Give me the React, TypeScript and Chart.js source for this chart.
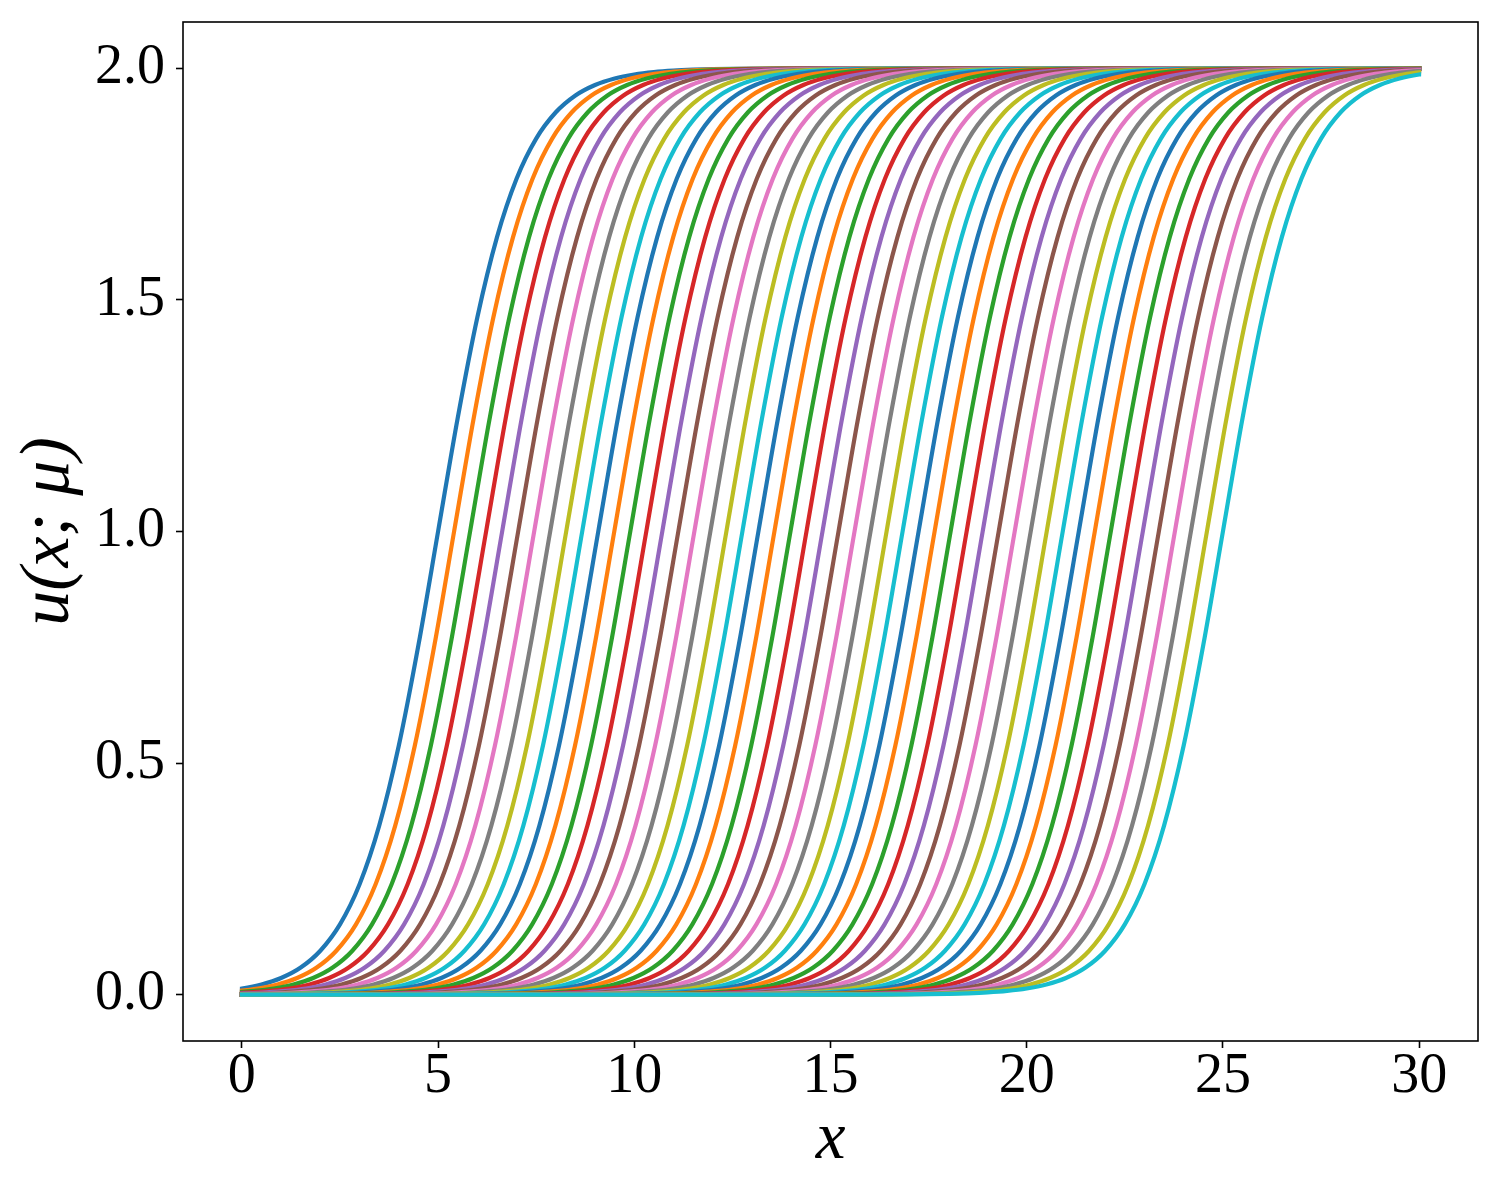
import React, { useEffect, useRef } from "react";
import { Chart, registerables } from "chart.js";

Chart.register(...registerables);

// Tick values and labels
const X_TICKS = [0, 5, 10, 15, 20, 25, 30];
const X_TICK_LABELS = ["0", "5", "10", "15", "20", "25", "30"];
const Y_TICKS = [0, 0.5, 1, 1.5, 2];
const Y_TICK_LABELS = ["0.0", "0.5", "1.0", "1.5", "2.0"];

// Front position (where u = 1) of each of the 50 curves
const CENTERS = [
  5.0, 5.408, 5.816, 6.224, 6.633, 7.041, 7.449, 7.857, 8.265, 8.673,
  9.082, 9.49, 9.898, 10.306, 10.714, 11.122, 11.531, 11.939, 12.347, 12.755,
  13.163, 13.571, 13.98, 14.388, 14.796, 15.204, 15.612, 16.02, 16.429, 16.837,
  17.245, 17.653, 18.061, 18.469, 18.878, 19.286, 19.694, 20.102, 20.51, 20.918,
  21.327, 21.735, 22.143, 22.551, 22.959, 23.367, 23.776, 24.184, 24.592, 25.0,
];

// Shape of one front: distance from its centre -> u
const PROFILE_OFFSET = [
  -26, -10, -8, -7, -6.5, -6, -5.5, -5, -4.5, -4, -3.5, -3, -2.5, -2, -1.5, -1, -0.5,
  0, 0.5, 1, 1.5, 2, 2.5, 3, 3.5, 4, 4.5, 5, 5.5, 6, 6.5, 7, 8, 10, 26,
];
const PROFILE_U = [
  0.0, 0.0001, 0.0007, 0.0018, 0.003, 0.0049, 0.0081, 0.0134, 0.022, 0.036, 0.0586,
  0.0949, 0.1517, 0.2384, 0.3649, 0.5379, 0.7551, 1.0, 1.2449, 1.4621, 1.6351, 1.7616,
  1.8483, 1.9051, 1.9414, 1.964, 1.978, 1.9866, 1.9919, 1.9951, 1.997, 1.9982, 1.9993,
  1.9999, 2.0,
];

const COLORS = [
  "#1f77b4", "#ff7f0e", "#2ca02c", "#d62728", "#9467bd",
  "#8c564b", "#e377c2", "#7f7f7f", "#bcbd22", "#17becf",
];

const X_MIN = -1.5;
const X_MAX = 31.5;
const Y_MIN = -0.1;
const Y_MAX = 2.1;
const DOMAIN_START = 0;
const DOMAIN_END = 30;

const FONT = "'Liberation Serif', 'DejaVu Serif', serif";

const domainClip = {
  id: "domainClip",
  beforeDatasetsDraw(chart: any) {
    const { ctx, chartArea, scales } = chart;
    const x0 = scales.x.getPixelForValue(DOMAIN_START) - 2;
    const x1 = scales.x.getPixelForValue(DOMAIN_END) + 2;
    ctx.save();
    ctx.beginPath();
    ctx.rect(x0, chartArea.top, x1 - x0, chartArea.bottom - chartArea.top);
    ctx.clip();
  },
  afterDatasetsDraw(chart: any) {
    chart.ctx.restore();
  },
};

const frame = {
  id: "frame",
  afterDraw(chart: any) {
    const { ctx, chartArea } = chart;
    ctx.save();
    ctx.strokeStyle = "#000";
    ctx.lineWidth = 1.6;
    ctx.strokeRect(
      chartArea.left,
      chartArea.top,
      chartArea.right - chartArea.left,
      chartArea.bottom - chartArea.top
    );
    ctx.restore();
  },
};

export default function App() {
  const ref = useRef<HTMLCanvasElement | null>(null);

  useEffect(() => {
    if (!ref.current) return;
    const datasets = CENTERS.map((c, i) => ({
      label: `mu_${i}`,
      data: PROFILE_OFFSET.map((o, j) => ({ x: c + o, y: PROFILE_U[j] })),
      borderColor: COLORS[i % COLORS.length],
      backgroundColor: COLORS[i % COLORS.length],
      borderWidth: 4.2,
      pointRadius: 0,
      pointHoverRadius: 0,
      fill: false,
      cubicInterpolationMode: "monotone" as const,
      order: CENTERS.length - 1 - i,
    }));

    const chart = new Chart(ref.current, {
      type: "line",
      data: { datasets },
      plugins: [domainClip, frame],
      options: {
        animation: false,
        responsive: false,
        devicePixelRatio: 1,
        events: [],
        layout: { padding: { left: 0, right: 22, top: 22, bottom: 0 } },
        plugins: {
          legend: { display: false },
          tooltip: { enabled: false },
        },
        scales: {
          x: {
            type: "linear",
            min: X_MIN,
            max: X_MAX,
            afterBuildTicks: (s: any) => {
              s.ticks = X_TICKS.map((v) => ({ value: v }));
            },
            afterFit: (s: any) => {
              s.height = 159;
              s.paddingLeft = 0;
              s.paddingRight = 0;
            },
            ticks: {
              autoSkip: false,
              maxRotation: 0,
              color: "#000",
              padding: -4,
              font: { family: FONT, size: 56 },
              callback: (v: any) => X_TICK_LABELS[X_TICKS.indexOf(Number(v))] ?? "",
            },
            grid: {
              drawOnChartArea: false,
              drawTicks: true,
              tickLength: 7,
              tickWidth: 1.6,
              tickColor: "#000",
            },
            border: { display: false },
            title: {
              display: true,
              text: "x",
              color: "#000",
              font: { family: FONT, size: 67, style: "italic" },
              padding: { top: 0, bottom: 19 },
            },
          },
          y: {
            type: "linear",
            min: Y_MIN,
            max: Y_MAX,
            afterBuildTicks: (s: any) => {
              s.ticks = Y_TICKS.map((v) => ({ value: v }));
            },
            afterFit: (s: any) => {
              s.width = 183;
              s.paddingTop = 0;
              s.paddingBottom = 0;
            },
            ticks: {
              autoSkip: false,
              color: "#000",
              padding: 11,
              font: { family: FONT, size: 56 },
              callback: (v: any) => Y_TICK_LABELS[Y_TICKS.indexOf(Number(v))] ?? "",
            },
            grid: {
              drawOnChartArea: false,
              drawTicks: true,
              tickLength: 7,
              tickWidth: 1.6,
              tickColor: "#000",
            },
            border: { display: false },
            title: {
              display: true,
              text: "u(x; μ)",
              color: "#000",
              font: { family: FONT, size: 70, style: "italic" },
              padding: { top: 8, bottom: 0 },
            },
          },
        },
      },
    });
    return () => chart.destroy();
  }, []);

  return (
    <div style={{ position: "absolute", left: 0, top: 0, width: 1500, height: 1200, background: "#fff" }}>
      <canvas ref={ref} width={1500} height={1200} style={{ display: "block" }} />
    </div>
  );
}
